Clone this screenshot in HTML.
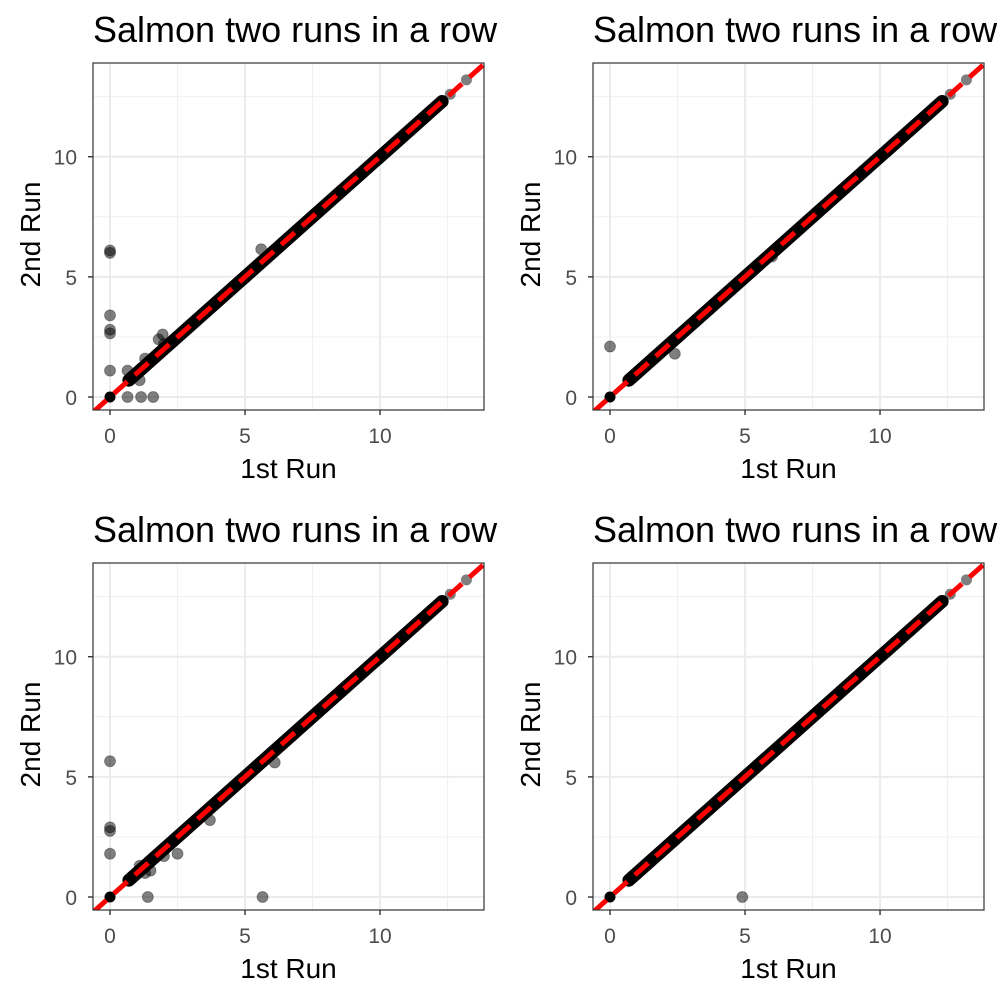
<!DOCTYPE html>
<html><head><meta charset="utf-8">
<style>
html,body{margin:0;padding:0;background:#fff;}
svg{display:block;font-family:"Liberation Sans",Arial,sans-serif;}
</style></head>
<body>
<svg id="chart" width="1000" height="1000" viewBox="0 0 1000 1000"></svg>
<script>
// Data per panel
const panelTitles = ["Salmon two runs in a row","Salmon two runs in a row","Salmon two runs in a row","Salmon two runs in a row"];
const xTicks = [0, 5, 10];
const tickLabels = ["0", "5", "10"];
const minorTicks = [2.5, 7.5, 12.5];
// dense diagonal band (y = x) start/end per panel
const bandStart = [0.7, 0.7, 0.7, 0.7];
const bandEnd = [12.3, 12.3, 12.3, 12.3];
// common points on the diagonal
const diagX = [0, 0.7, 0.75, 1.0, 1.2, 12.6, 13.2];
// outliers per panel
const p1x = [0, 0, 0, 0, 0, 0, 0.65, 0.65, 1.15, 1.6, 1.1, 1.3, 1.5, 1.8, 1.95, 2.0, 5.6];
const p1y = [6.1, 6.0, 3.4, 2.8, 2.65, 1.1, 1.1, 0, 0, 0, 0.7, 1.6, 1.5, 2.4, 2.6, 2.2, 6.15];
const p2x = [0, 2.4, 6.0];
const p2y = [2.1, 1.8, 5.85];
const p3x = [0, 0, 0, 0, 1.4, 5.65, 2.5, 3.7, 1.3, 1.5, 1.1, 6.1, 2.0];
const p3y = [5.65, 2.9, 2.75, 1.8, 0, 0, 1.8, 3.2, 1.0, 1.1, 1.3, 5.6, 1.7];
const p4x = [4.9];
const p4y = [0];
const outX = [p1x, p2x, p3x, p4x];
const outY = [p1y, p2y, p3y, p4y];

const NS = "http://www.w3.org/2000/svg";
const svg = document.getElementById("chart");
function mk(tag, attrs, parent) {
  const e = document.createElementNS(NS, tag);
  for (const k in attrs) e.setAttribute(k, attrs[k]);
  parent.appendChild(e);
  return e;
}
const XMIN = -0.63, XMAX = 13.85, YMIN = -0.54, YMAX = 13.9;
const PW = 391, PH = 347;
const R = 5.5;

for (let p = 0; p < 4; p++) {
  const ox = (p % 2) * 500, oy = Math.floor(p / 2) * 500;
  const L = 93 + ox, T = 63 + oy;
  const sx = v => L + (v - XMIN) / (XMAX - XMIN) * PW;
  const sy = v => T + PH - (v - YMIN) / (YMAX - YMIN) * PH;
  const g = mk("g", {}, svg);
  
  

  const title = mk("text", {x: L, y: oy + 42, "font-size": 36, fill: "#000"}, g);
  title.textContent = panelTitles[p];
  
  

  mk("rect", {x: L, y: T, width: PW, height: PH, fill: "#fff"}, g);
  const clipId = "clip" + p;
  const cp = mk("clipPath", {id: clipId}, g);
  mk("rect", {x: L, y: T, width: PW, height: PH}, cp);
  const grid = mk("g", {"clip-path": "url(#" + clipId + ")"}, g);
  
  
  minorTicks.forEach(v => {
    mk("line", {x1: sx(v), x2: sx(v), y1: T, y2: T + PH, stroke: "#f0f0f0", "stroke-width": 1}, grid);
    mk("line", {x1: L, x2: L + PW, y1: sy(v), y2: sy(v), stroke: "#f0f0f0", "stroke-width": 1}, grid);
  });
  xTicks.forEach(v => {
    mk("line", {x1: sx(v), x2: sx(v), y1: T, y2: T + PH, stroke: "#ebebeb", "stroke-width": 2}, grid);
    mk("line", {x1: L, x2: L + PW, y1: sy(v), y2: sy(v), stroke: "#ebebeb", "stroke-width": 2}, grid);
  });

  const pts = mk("g", {"clip-path": "url(#" + clipId + ")"}, g);
  
  
  const band = mk("line", {x1: sx(bandStart[p]), y1: sy(bandStart[p]), x2: sx(bandEnd[p]), y2: sy(bandEnd[p]), stroke: "#000", "stroke-width": 13, "stroke-linecap": "round"}, pts);
  
  
  diagX.forEach(v => {
    const c = mk("circle", {cx: sx(v), cy: sy(v), r: R, fill: "#000", "fill-opacity": v === 0 ? 1 : 0.5}, pts);
    
    
  });
  outX[p].forEach((v, i) => {
    const c = mk("circle", {cx: sx(v), cy: sy(outY[p][i]), r: R, fill: "#000", "fill-opacity": 0.5, stroke: "#000", "stroke-opacity": 0.3, "stroke-width": 1}, pts);
    
    
  });
  const ref = mk("line", {x1: sx(XMIN), y1: sy(XMIN), x2: sx(YMAX), y2: sy(YMAX), stroke: "#ff0000", "stroke-width": 5, "stroke-dasharray": "18 10"}, pts);
  
  

  const border = mk("rect", {x: L, y: T, width: PW, height: PH, fill: "none", stroke: "#333", "stroke-width": 1.2}, g);
  
  

  xTicks.forEach((v, i) => {
    mk("line", {x1: sx(v), x2: sx(v), y1: T + PH, y2: T + PH + 5, stroke: "#333", "stroke-width": 1.4}, g);
    const tx = mk("text", {x: sx(v), y: T + PH + 33, "font-size": 21, fill: "#4d4d4d", "text-anchor": "middle"}, g);
    tx.textContent = tickLabels[i];
    
    
    mk("line", {x1: L - 5, x2: L, y1: sy(v), y2: sy(v), stroke: "#333", "stroke-width": 1.4}, g);
    const ty = mk("text", {x: L - 16, y: sy(v) + 8, "font-size": 21, fill: "#4d4d4d", "text-anchor": "end"}, g);
    ty.textContent = tickLabels[i];
    
    
  });
  const xt = mk("text", {x: L + PW / 2, y: T + PH + 68, "font-size": 28, fill: "#000", "text-anchor": "middle"}, g);
  xt.textContent = "1st Run";
  
  
  const yx = 40 + ox, yy = T + PH / 2 - 2;
  const yt = mk("text", {x: yx, y: yy, "font-size": 28, fill: "#000", "text-anchor": "middle", transform: "rotate(-90 " + yx + " " + yy + ")"}, g);
  yt.textContent = "2nd Run";
  
  
}
</script>
</body></html>
